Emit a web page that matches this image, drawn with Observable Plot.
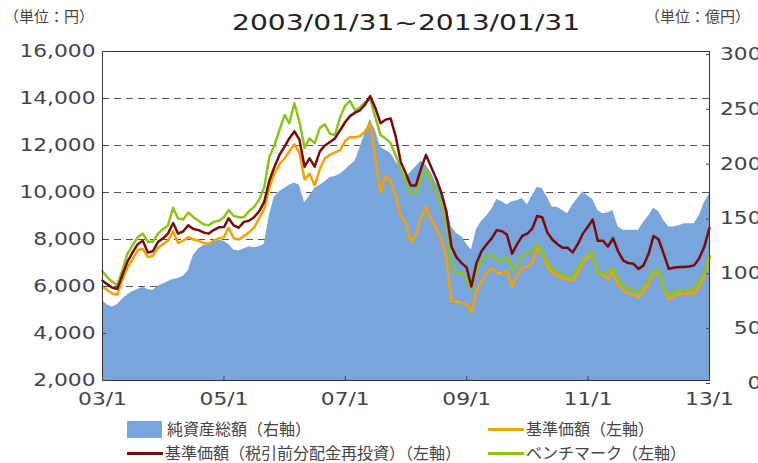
<!DOCTYPE html>
<html><head><meta charset="utf-8">
<script src="https://cdn.jsdelivr.net/npm/d3@7"></script>
<script src="https://cdn.jsdelivr.net/npm/@observablehq/plot@0.6"></script>
<style>
body{margin:0;background:#fff;}
#wrap{position:relative;width:758px;height:463px;overflow:hidden;font-family:"Noto Sans CJK JP",sans-serif;color:#444;}
.abs{position:absolute;white-space:nowrap;}
#chart{position:absolute;left:0;top:36px;}
#title{font-family:"DejaVu Sans",sans-serif;font-size:22px;color:#222;line-height:26px;transform:scaleX(1.28);transform-origin:left center;}
.lg{font-size:16px;line-height:17px;}
</style></head><body>
<div id="wrap">
  <div class="abs" style="left:4px;top:7px;font-size:15px;line-height:18px;">（単位：円）</div>
  <div class="abs" id="title" style="left:232px;top:10px;">2003/01/31~2013/01/31</div>
  <div class="abs" style="left:645px;top:7px;font-size:15px;line-height:18px;">（単位：億円）</div>
  <div id="chart"></div>
  <div id="legend"></div>
</div>
<script>
// Net assets (right axis, 億円), monthly 2003/01 .. 2013/01
const netAssets = [
  73,69,67,69,74,78,81,83,85,83,
  82,86,88,90,92,93,95,100,114,120,
  123,124,126,128,127,124,119,118,120,122,
  121,122,124,150,167,172,175,178,180,178,
  162,168,175,178,181,185,186,188,192,196,
  200,212,226,238,228,213,210,207,200,193,
  185,190,195,200,196,190,180,172,160,140,
  134,131,124,119,138,145,150,156,165,163,
  160,163,164,166,160,168,176,175,167,158,
  158,155,152,160,166,172,168,165,155,152,
  153,155,140,137,137,137,137,144,150,157,
  154,146,140,140,141,143,143,143,150,162,
  170];
// 基準価額 (left axis, 円)
const basePrice = [
  6000,5850,5700,5650,6300,6800,7150,7550,7600,7250,
  7300,7650,7800,7950,8350,7850,7950,8100,8000,7950,
  7850,7820,7950,8050,8100,8500,8050,8000,8150,8300,
  8500,8900,9300,10200,10800,11200,11450,11750,12050,11700,
  10550,10800,10300,11000,11450,11600,11700,11800,12200,12350,
  12350,12400,12600,12950,11500,10000,10700,10500,9850,9000,
  8700,7900,8200,8900,9400,8850,8500,8000,7200,5400,
  5350,5300,5250,4900,5800,6200,6600,6750,6600,6550,
  6650,6000,6500,6800,6850,7000,7600,7450,6850,6600,
  6450,6350,6300,6250,6600,7000,7250,7400,6550,6500,
  6300,6650,6050,5850,5700,5650,5550,5800,6100,6600,
  6600,5950,5450,5600,5680,5680,5700,5700,6000,6450,
  7250];
// 基準価額（税引前分配金再投資）
const reinvested = [
  6250,6100,5950,5900,6500,7050,7450,7800,7950,7450,
  7500,7900,8050,8250,8700,8250,8350,8600,8450,8400,
  8300,8250,8400,8520,8530,8900,8600,8500,8750,8800,
  8950,9200,9600,10500,11080,11600,11950,12300,12600,12250,
  11100,11450,11100,11750,12000,12150,12300,12650,13000,13250,
  13400,13500,13750,14100,13600,12950,13100,13150,12400,11300,
  10800,10300,10300,11000,11600,11100,10600,10000,9200,7700,
  7250,7000,6800,6000,7000,7500,7800,8050,8400,8350,
  8200,7400,7800,8150,8250,8450,9000,8950,8300,8000,
  7800,7650,7650,7450,7800,8250,8550,8850,7950,7950,
  7700,8050,7500,7100,7000,6970,6750,6900,7400,8150,
  8000,7400,6750,6800,6830,6830,6850,6900,7200,7700,
  8500];
// ベンチマーク
const benchmark = [
  6650,6400,6200,6050,6700,7400,7750,8100,8250,7900,
  7900,8250,8450,8600,9350,8900,8850,9150,8950,8800,
  8650,8600,8750,8800,8950,9250,9000,8950,8950,9200,
  9380,9700,10200,11500,12000,12650,13300,12950,13800,13000,
  11900,12300,12100,12750,12900,12500,12450,13200,13700,13900,
  13500,13630,13850,13980,13200,12450,12300,12100,11600,11000,
  10500,10000,10000,10600,11000,10500,10000,9500,8700,7000,
  6550,6600,6300,5850,6700,7100,7300,7350,7150,7100,
  7250,6700,6900,7300,7400,7500,7800,7500,7050,6750,
  6600,6500,6400,6420,6800,7100,7350,7450,6550,6550,
  6600,6800,6300,6050,5900,5850,5720,6000,6280,6650,
  6700,5980,5600,5750,5830,5820,5850,5900,6200,6600,
  7300];

const leftTicks = [2000,4000,6000,8000,10000,12000,14000,16000];
const rightTicks = [0,50,100,150,200,250,300];
const gridValues = [4000,6000,8000,10000,12000,14000];
const xTickMonths = [0,24,48,72,96,120];

const seriesNames = ["純資産総額（右軸）","基準価額（左軸）","基準価額（税引前分配金再投資）（左軸）","ベンチマーク（左軸）"];
const seriesColors = ["#78a5dc","#f5a100","#7a0a0a","#8cc418"];

const L0 = 2000, L1 = 16000, R1 = 300;
const toLeft = r => L0 + r * (L1 - L0) / R1;
const toRight = v => Math.round((v - L0) * R1 / (L1 - L0));

const dates = netAssets.map((_, m) => new Date(Date.UTC(2003, m + 1, 0)));
const rows = dates.map((d, i) => ({date: d, nav: netAssets[i], base: basePrice[i], reinv: reinvested[i], bench: benchmark[i]}));

const plot = Plot.plot({
  width: 758, height: 380,
  marginTop: 15, marginBottom: 36, marginLeft: 102, marginRight: 49,
  x: {type: "utc", domain: [dates[0], dates[dates.length - 1]], label: null},
  y: {domain: [L0, L1], label: null},
  style: {fontFamily: "DejaVu Sans", fontSize: "17px", color: "#444", background: "#fff"},
  marks: [
    Plot.ruleY(gridValues, {stroke: "#555", strokeDasharray: "7,5", strokeWidth: 1}),
    Plot.areaY(rows, {x: "date", y1: L0, y2: d => toLeft(d.nav), fill: seriesColors[0]}),
    Plot.lineY(rows, {x: "date", y: "base", stroke: seriesColors[1], strokeWidth: 2.5}),
    Plot.lineY(rows, {x: "date", y: "bench", stroke: seriesColors[3], strokeWidth: 2.5}),
    Plot.lineY(rows, {x: "date", y: "reinv", stroke: seriesColors[2], strokeWidth: 2.5}),
    Plot.frame({stroke: "#333", strokeWidth: 1}),
    Plot.axisY(leftTicks, {anchor: "left", tickSize: -4, tickPadding: 11, tickFormat: d3.format(","), label: null, fill: "#444"}),
    Plot.axisY(rightTicks.map(toLeft), {anchor: "right", tickSize: -4, tickPadding: 56, textAnchor: "end", dy: 3, tickFormat: v => String(toRight(v)), label: null, fill: "#444"}),
    Plot.axisX(xTickMonths.map(m => dates[m]), {anchor: "bottom", tickSize: -4, tickPadding: 16, tickFormat: d3.utcFormat("%y/%-m"), label: null, fill: "#444"})
  ]
});
document.getElementById("chart").append(plot);
plot.querySelectorAll('g[aria-label$="tick label"] text').forEach(t => {
  const w = t.getComputedTextLength();
  t.setAttribute("textLength", (w * 1.28).toFixed(1));
  t.setAttribute("lengthAdjust", "spacingAndGlyphs");
});

// legend
const lg = document.getElementById("legend");
const pos = [[127, 429], [488, 429], [127, 453], [488, 453]];
seriesNames.forEach((name, i) => {
  const [x, y] = pos[i];
  const sw = document.createElement("div");
  sw.className = "abs";
  if (i === 0) {
    Object.assign(sw.style, {left: x + "px", top: (y - 8) + "px", width: "35px", height: "17px", background: seriesColors[i]});
  } else {
    Object.assign(sw.style, {left: x + "px", top: (y - 1) + "px", width: "36px", height: "3px", background: seriesColors[i]});
  }
  lg.append(sw);
  const tx = document.createElement("div");
  tx.className = "abs lg";
  tx.textContent = name;
  Object.assign(tx.style, {left: (x + (i === 0 ? 40 : 38)) + "px", top: (y - 9) + "px"});
  lg.append(tx);
});
</script>
</body></html>
